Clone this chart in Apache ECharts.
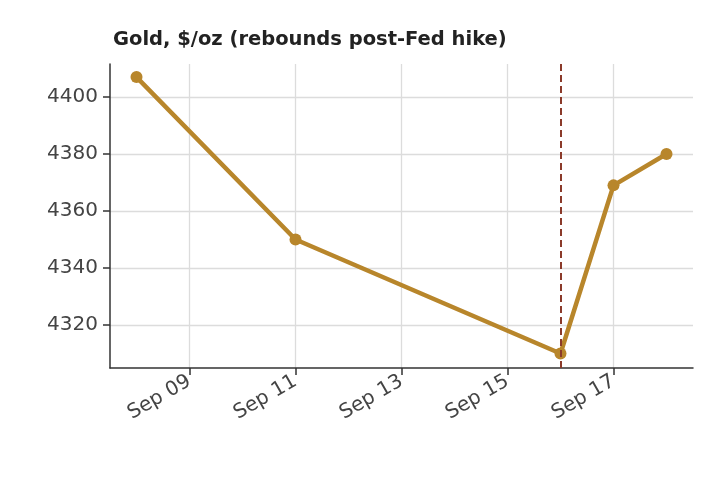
<!DOCTYPE html>
<html><head><meta charset="utf-8">
<script src="https://cdn.jsdelivr.net/npm/echarts@6/dist/echarts.min.js"></script>
</head><body style="margin:0">
<div id="c" style="width:720px;height:480px"></div>
<script>
const days = [8, 11, 16, 17, 18];
const prices = [4407, 4350, 4310, 4369, 4380];
const xTicks = [9, 11, 13, 15, 17];
const yTicks = [4320, 4340, 4360, 4380, 4400];
const eventDay = 16;
const chart = echarts.init(document.getElementById('c'));
chart.setOption({
  animation: false,
  title: {text: 'Gold, $/oz (rebounds post-Fed hike)', left: 108, top: 25,
    textStyle: {fontFamily: 'DejaVu Sans', fontSize: 19.5, fontWeight: 'bold', color: '#222'}},
  grid: {left: 110, right: 27, top: 64, bottom: 112},
  xAxis: {type: 'value', min: 7.5, max: 18.5,
    axisLine: {lineStyle: {color: '#333', width: 1.5}},
    axisTick: {customValues: xTicks, length: 7, lineStyle: {color: '#333', width: 1.5}},
    axisLabel: {customValues: xTicks, rotate: 30, fontSize: 20, color: '#444', fontFamily: 'DejaVu Sans',
      formatter: v => 'Sep ' + String(v).padStart(2, '0'), margin: 12},
    splitLine: {show: true, lineStyle: {color: '#dcdcdc', width: 1.3}}},
  yAxis: {type: 'value', min: 4304.9, max: 4411.6,
    axisLine: {show: true, lineStyle: {color: '#333', width: 1.5}},
    axisTick: {show: true, customValues: yTicks, length: 7, lineStyle: {color: '#333', width: 1.5}},
    axisLabel: {customValues: yTicks, fontSize: 20, color: '#444', fontFamily: 'DejaVu Sans', margin: 12,
      formatter: v => String(v)},
    splitLine: {show: true, lineStyle: {color: '#dcdcdc', width: 1.3}}},
  series: [{type: 'line', data: days.map((d, i) => [d, prices[i]]),
    lineStyle: {color: '#b8862b', width: 4.5}, itemStyle: {color: '#b8862b'},
    symbol: 'circle', symbolSize: 12,
    markLine: {silent: true, symbol: 'none', label: {show: false},
      lineStyle: {color: '#8b3a2a', type: [7, 4], width: 2},
      data: [{xAxis: eventDay}]}}]
});
</script></body></html>
